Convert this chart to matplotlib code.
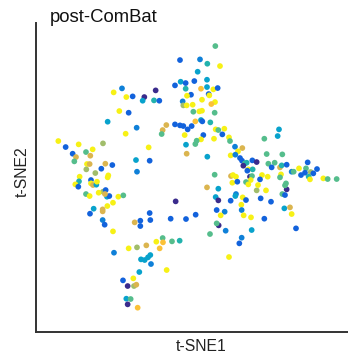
import numpy as np
import matplotlib
matplotlib.use('Agg')
import matplotlib.pyplot as plt

# t-SNE embedding after ComBat batch correction, one dot per sample
tsne1 = [
    4.6, -6.0, 0.0, 2.2, 6.0, -0.7, 2.1, -7.5, -5.8, -4.3,
    -1.7, -4.3, -13.3, -13.8, -12.2, -5.2, -2.7, 0.3, 2.1, 4.0,
    5.3, 2.6, 2.8, 0.6, 4.5, 3.4, -5.0, -4.0, -2.2, -0.2,
    0.6, -2.0, 4.4, -3.9, -23.4, -25.9, -22.1, -20.2, -16.7, -17.2,
    -24.2, -21.4, -27.7, -19.0, -22.3, -10.1, -11.2, -11.5, -7.5, -6.0,
    -5.0, -3.7, -2.5, -1.4, 0.3, 0.7, 3.1, 4.7, 5.5, 7.3,
    -4.6, 1.0, 0.3, -1.0, -1.4, -4.2, -4.0, 2.2, 6.7, 4.2,
    8.7, 9.0, -42.5, -40.3, -36.4, -29.1, -38.2, -37.2, -34.2, -32.9,
    -32.2, -37.7, -33.9, -33.1, -28.4, -26.3, -29.6, -34.1, -31.4, -27.5,
    -27.7, -36.1, -36.3, -37.4, -36.5, -32.7, -32.7, -32.1, -31.1, -30.9,
    -29.1, -28.3, -27.9, -27.2, -28.5, -30.4, -34.2, -33.1, -24.5, -23.0,
    -26.1, -27.8, -29.2, -29.2, -31.9, -33.0, -29.2, -28.6, -26.1, -15.4,
    -19.2, -15.1, -18.9, -7.3, -15.1, -17.9, -17.9, -19.6, -14.9, -8.8,
    -4.2, -1.3, -25.8, -21.4, -18.9, -16.1, -13.1, -11.2, -11.1, -12.1,
    -8.4, -6.1, -14.9, -15.6, -16.6, -17.7, -14.7, -18.2, -10.0, -20.0,
    -23.1, -21.7, -19.8, -19.1, -22.1, -20.8, -21.7, -18.7, 10.5, 12.7,
    11.4, 9.2, 10.6, 12.0, 12.6, 13.5, 14.0, 13.0, 15.7, 17.0,
    14.5, 15.8, 14.2, 15.0, 15.6, 15.2, 13.8, 14.5, 4.4, 9.3,
    9.9, 10.8, 9.7, 11.2, 2.1, 5.5, 4.7, 5.5, 9.2, 10.8,
    10.6, 12.8, 13.8, 12.4, 12.5, 5.0, 7.4, 6.2, 13.1, 15.3,
    5.6, 5.0, 7.7, 3.0, 15.5, 12.5, 11.8, 8.7, 19.3, 23.7,
    23.3, 19.3, 20.0, 24.7, 20.5, 22.4, 21.5, 24.0, 24.5, 26.0,
    27.5, 28.1, 29.7, 32.3, 31.8, 31.5, 33.2, 34.0, 35.1, 30.3,
    32.6, 33.0, 37.0, 38.3, 41.0, 18.6, 20.3, 24.3, 24.0, 25.8,
    26.0, 25.5, 24.7, 25.5, 17.0, 19.8, 17.4, 18.0, 21.3, 18.2,
    25.3, 27.0, 27.5, 28.8,
]
tsne2 = [
    46.2, 42.0, 42.2, 40.9, 40.2, 38.5, 36.1, 34.4, 35.5, 35.1,
    35.7, 33.4, 32.9, 29.9, 29.8, 29.6, 31.6, 33.4, 33.9, 33.2,
    33.6, 31.8, 31.4, 30.1, 29.4, 28.8, 28.4, 28.4, 28.6, 26.6,
    26.8, 26.5, 26.2, 31.3, 33.5, 32.3, 30.9, 31.1, 30.9, 29.8,
    26.7, 26.2, 23.5, 21.7, 19.9, 22.5, 21.0, 19.8, 22.7, 22.4,
    22.2, 21.2, 22.2, 23.6, 24.0, 23.6, 23.3, 21.2, 21.0, 21.4,
    19.5, 19.5, 18.2, 17.8, 16.8, 16.6, 13.9, 13.0, 19.7, 18.4,
    18.8, 17.7, 17.7, 15.9, 16.7, 17.0, 13.9, 12.9, 14.4, 13.3,
    15.2, 11.6, 10.8, 10.8, 10.9, 10.5, 9.4, 9.2, 8.1, 7.4,
    6.8, 7.0, 5.6, 4.7, 4.0, 6.0, 5.0, 4.5, 4.6, 5.5,
    2.5, 3.0, 1.0, 1.2, 1.8, 2.2, 1.8, 1.2, 1.0, 1.4,
    -0.8, -1.8, -2.8, -3.4, -2.6, -4.1, -6.0, -7.4, -9.4, 15.8,
    12.0, 11.8, 8.5, -0.4, -3.9, -6.2, -7.8, -6.7, -6.0, -5.6,
    -5.7, -4.4, -15.8, -14.5, -14.2, -13.6, -12.5, -11.4, -12.7, -14.5,
    -12.4, -12.2, -16.5, -17.2, -18.0, -17.8, -19.2, -21.6, -21.0, -23.5,
    -24.1, -25.8, -25.8, -25.4, -29.6, -29.7, -31.3, -32.3, 16.0, 15.6,
    14.6, 13.4, 13.6, 12.6, 11.8, 11.0, 11.2, 10.3, 11.9, 11.4,
    9.2, 9.2, 8.8, 7.0, 7.2, 6.0, 5.4, 4.7, 7.6, 7.2,
    7.5, 7.0, 5.2, 5.5, 3.8, 3.4, 0.9, -0.1, -0.2, 1.8,
    1.2, 0.8, 0.0, -1.4, -3.0, -3.0, -3.5, -4.6, -4.6, -5.2,
    -7.6, -7.0, -9.2, -10.2, -9.0, -11.3, -13.0, -17.1, -5.6, 21.2,
    19.2, 18.4, 13.8, 13.7, 10.9, 11.2, 9.8, 9.8, 10.4, 10.6,
    8.5, 8.5, 9.5, 11.3, 9.5, 8.2, 8.4, 8.0, 9.3, 7.5,
    7.0, 6.2, 6.5, 6.3, 6.3, 7.5, 7.0, 7.7, 6.8, 5.0,
    3.2, 4.4, 1.8, 1.5, 2.9, 2.9, 4.5, 6.2, -0.5, 0.5,
    -2.5, -2.2, -4.2, -8.5,
]
# batch of each sample (letters index into batch_colors)
batch = (
    "GBMTLCCBCB" "BTNTBMBYCL" "BBLLLYOLLL" "LGGLMLLBNC"
    "LBCMLAAGBB" "BBBYCBTLGL" "LBLGGCACBL" "LGLBLOBAGA"
    "LGLAABBOOL" "LLTLBBLACL" "OBCBALGLLG" "LLAACBMBLL"
    "CBMNBBBABB" "BBMLOALGYY" "GTCCCCMCLL" "BNOACGNYMA"
    "LLMBBGTNBN" "LTBNGLGLGA" "LLLBACCNBM" "CLBLMBMLLL"
    "NGMGCMBLBC" "CGGGGGBATB" "MGLBGBOBBB" "TLLGGLLLGG"
    "NGGBOLLBBB" "CALB"
)
batch_colors = {
    'N': '#3a2b8c', 'B': '#1262dc', 'M': '#0f80d8', 'C': '#08a2cc',
    'T': '#22b2ad', 'G': '#55bd8c', 'O': '#a1bd6b', 'A': '#dbb54f',
    'Y': '#fbc137', 'L': '#f7f115',
}

colors = [batch_colors[b] for b in batch]

fig = plt.figure(figsize=(3.48, 3.58), dpi=100)
ax = fig.add_axes([0.1034, 0.0735, 0.8966, 0.863])
ax.scatter(tsne1, tsne2, s=17, c=colors, linewidths=0)

ax.set_xlim(-49.2, 44.4)
ax.set_ylim(-39.5, 53.2)
ax.set_xticks([])
ax.set_yticks([])
for side in ['top', 'right']:
    ax.spines[side].set_visible(False)
for side in ['left', 'bottom']:
    ax.spines[side].set_color('#333333')
    ax.spines[side].set_linewidth(1.4)

font = 'Liberation Sans'
fig.text(50 / 348, 1 - 21.5 / 358, 'post-ComBat', fontsize=13.3, family=font,
         color='#111111', ha='left', va='baseline')
fig.text(201.5 / 348, 1 - 351 / 358, 't-SNE1', fontsize=11.3, family=font,
         color='#222222', ha='center', va='baseline')
fig.text(29.5 / 348, 1 - 172 / 358, 't-SNE2', fontsize=11.3, family=font,
         color='#222222', ha='right', va='center', rotation=90)

fig.savefig('out.png', dpi=100)
